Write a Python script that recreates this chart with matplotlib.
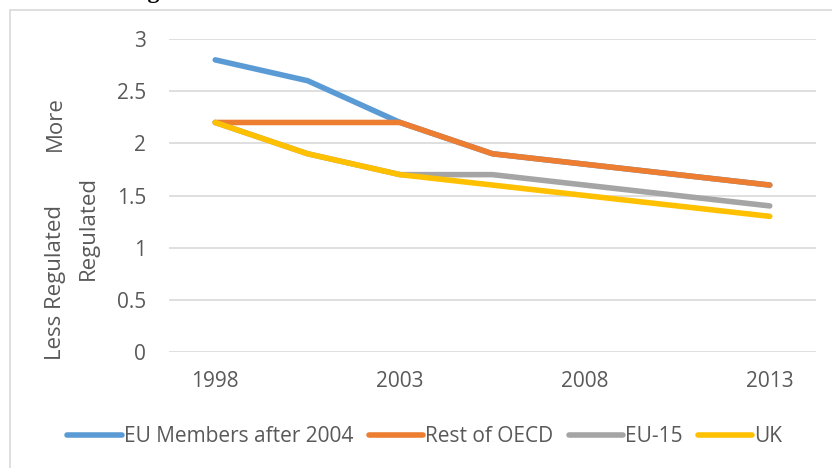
import matplotlib
matplotlib.use("Agg")
import matplotlib.pyplot as plt
from matplotlib.patches import Rectangle
from matplotlib.lines import Line2D

# categories (every other one labelled, as in the source sheet)
years = ["1998", "", "2003", "", "2008", "", "2013"]

eu_after_2004 = [2.8, 2.6, 2.2, 1.9, 1.8, 1.7, 1.6]
rest_of_oecd = [2.2, 2.2, 2.2, 1.9, 1.8, 1.7, 1.6]
eu_15 = [2.2, 1.9, 1.7, 1.7, 1.6, 1.5, 1.4]
uk = [2.2, 1.9, 1.7, 1.6, 1.5, 1.4, 1.3]

series_names = ["EU Members after 2004", "Rest of OECD", "EU-15", "UK"]
colors = ["#5B9BD5", "#ED7D31", "#A5A5A5", "#FFC000"]

yticks = [0, 0.5, 1, 1.5, 2, 2.5, 3]

txt = "#595959"
plt.rcParams["font.family"] = ["Open Sans", "DejaVu Sans"]

W, H = 832, 468
fig = plt.figure(figsize=(W / 100, H / 100), dpi=100)

# chart frame (cut by the image edge on the right and bottom)
fig.patches.append(Rectangle((10 / W, -0.2), 1.2, 1 - 10 / H + 0.2,
                             transform=fig.transFigure, fill=False,
                             edgecolor="#D9D9D9", lw=1.2))

# clipped title from the page above the chart
fig.text(121 / W, 1 + 2 / H, "Regulation", family="Liberation Serif",
         weight="bold", fontsize=17, color="black", va="baseline")

ax = fig.add_axes([169 / W, (H - 352) / H, (816 - 169) / W, 313 / H])

x = list(range(len(years)))
for vals, c in zip([eu_after_2004, rest_of_oecd, eu_15, uk], colors):
    ax.plot(x, vals, color=c, lw=4.0, solid_capstyle="round",
            solid_joinstyle="round")

ax.set_xlim(-0.5, len(years) - 0.5)
ax.set_ylim(0, 3)
ax.set_yticks(yticks)
ax.set_yticklabels(["0", "0.5", "1", "1.5", "2", "2.5", "3"])
ax.set_xticks(x)
ax.set_xticklabels(years)
ax.grid(axis="y", color="#D9D9D9", lw=1.2)
ax.set_axisbelow(True)
for s in ax.spines.values():
    s.set_visible(False)
ax.tick_params(length=0, labelsize=15, labelcolor=txt)
ax.tick_params(axis="y", pad=16.5)
ax.tick_params(axis="x", pad=14)

# y-axis title, wrapped over two lines
fig.text(55 / W, 1 - 283 / H, "Less Regulated", rotation=90, ha="center",
         va="center", fontsize=16, color=txt)
fig.text(55 / W, 1 - 124 / H, "More", rotation=90, ha="center",
         va="center", fontsize=16, color=txt)
fig.text(88 / W, 1 - 228 / H, "Regulated", rotation=90, ha="center",
         va="center", fontsize=16, color=txt)

handles = [Line2D([0], [0], color=c, lw=4.0, solid_capstyle="round")
           for c in colors]
fig.legend(handles, series_names, loc="center", ncol=4,
           bbox_to_anchor=(425 / W, 1 - 437 / H), frameon=False,
           fontsize=15, labelcolor=txt, handlelength=2.6, handletextpad=0.1,
           columnspacing=0.75)

fig.savefig("out.png", dpi=100)
